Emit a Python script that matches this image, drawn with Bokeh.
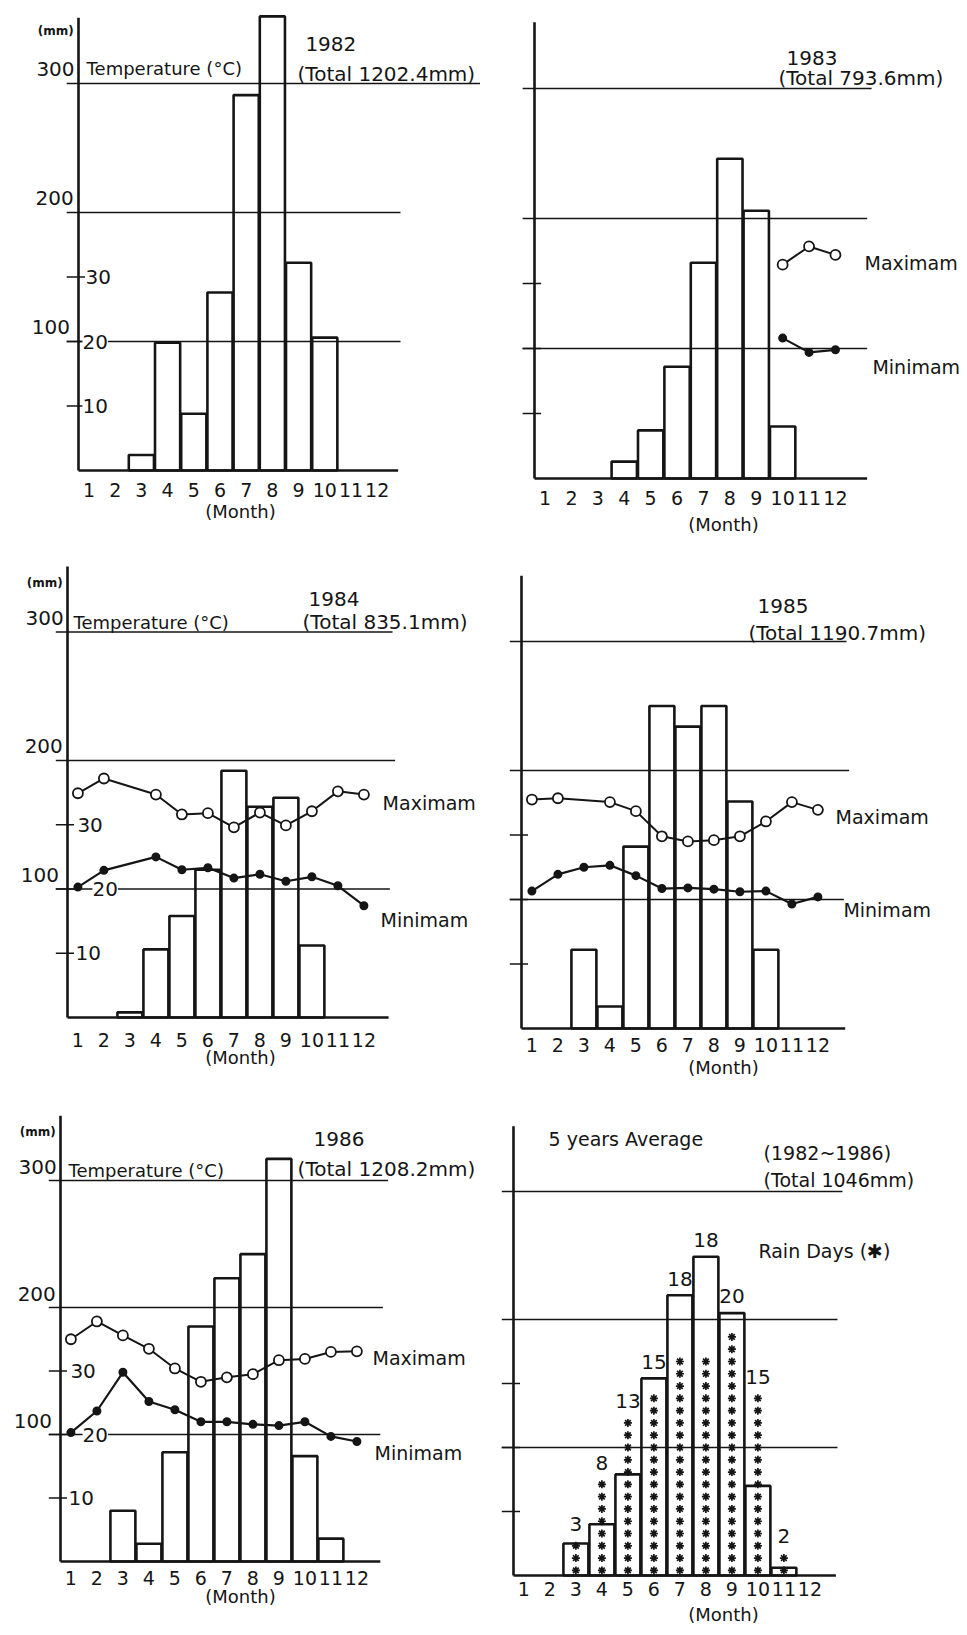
from bokeh.plotting import figure
from bokeh.models import Range1d, FixedTicker
from bokeh.layouts import column, row
from bokeh.embed import file_html
from bokeh.resources import INLINE
from bokeh.core.properties import value

# ---------------- data ----------------
months = [1, 2, 3, 4, 5, 6, 7, 8, 9, 10, 11, 12]
mm_ticks = [100, 200, 300]
mm_tick_labels = ["100", "200", "300"]
temp_ticks = [10, 20, 30]
temp_tick_labels = ["10", "20", "30"]

rain_1982 = [0, 0, 12, 99, 44, 138, 291, 352, 161, 103, 0, 0]
rain_1983 = [0, 0, 0, 13, 37, 86, 166, 246, 206, 40, 0, 0]
rain_1984 = [0, 0, 4, 53, 79, 115, 192, 164, 171, 56, 0, 0]
rain_1985 = [0, 0, 61, 17, 141, 250, 234, 250, 176, 61, 0, 0]
rain_1986 = [0, 0, 40, 14, 86, 185, 223, 242, 317, 83, 18, 0]
rain_avg = [0, 0, 25, 40, 79, 154, 219, 249, 205, 70, 6, 0]
rain_days_avg = [0, 0, 3, 8, 13, 15, 18, 18, 20, 15, 2, 0]

N = None
tmax_1983 = [N, N, N, N, N, N, N, N, N, 32.9, 35.7, 34.4]
tmin_1983 = [N, N, N, N, N, N, N, N, N, 21.6, 19.4, 19.8]
tmax_1984 = [34.9, 37.2, N, 34.7, 31.6, 31.8, 29.6, 31.9, 29.9, 32.1, 35.2, 34.7]
tmin_1984 = [20.3, 22.9, N, 25.0, 23.0, 23.3, 21.7, 22.3, 21.2, 21.9, 20.5, 17.4]
tmax_1985 = [35.5, 35.7, N, 35.1, 33.7, 29.8, 29.0, 29.2, 29.8, 32.1, 35.1, 33.9]
tmin_1985 = [21.3, 23.9, 25.0, 25.3, 23.7, 21.7, 21.8, 21.6, 21.2, 21.3, 19.3, 20.4]
tmax_1986 = [35.0, 37.8, 35.6, 33.5, 30.4, 28.3, 29.0, 29.5, 31.7, 31.9, 33.0, 33.1]
tmin_1986 = [20.3, 23.7, 29.8, 25.2, 23.9, 22.0, 22.0, 21.6, 21.4, 22.0, 19.7, 18.9]

# ---------------- style / layout constants ----------------
FONT = "DejaVu Sans"
INK = "#151515"
AXIS_X = 0.6          # month coordinate of the vertical axis
MM_PER_DEG = 5.0      # 10 degC drawn as 50 mm
AXIS_TOP = 351
GRID_X0 = 0.15
TICK_X0, TICK_X1 = 0.15, 0.85
MM_LABEL_X = [0.27, 0.42, 0.45]
MM_LABEL_DY = 11
STAR_Y0, STAR_STEP = 4.0, 9.6


def present(vals):
    xs = [m for m, v in zip(months, vals) if v is not None]
    ys = [v for v in vals if v is not None]
    return xs, ys


def txt(p, x, y, s, size="19px", align="left", **kw):
    p.text(x=[x], y=[y], text=[s], text_align=align, text_baseline="middle",
           text_font=value(FONT), text_font_size=size, text_color=INK, **kw)


def panel(cfg, rain, tmax=None, tmin=None):
    W, H, B, k = cfg["w"], cfg["h"], cfg["b"], cfg["k"]
    px = cfg.get("px", 26.0)
    x0 = AXIS_X - cfg["ax"] / px
    x1 = x0 + W / px
    y1 = cfg["base"] / k
    y0 = y1 - (H - B) / k
    p = figure(width=W, height=H, x_range=Range1d(x0, x1), y_range=Range1d(y0, y1),
               output_backend="svg", toolbar_location=None, y_axis_location=None,
               min_border_left=0, min_border_right=0, min_border_top=0,
               min_border_bottom=B, background_fill_color="white",
               border_fill_color="white")
    p.extra_y_ranges = {"temp": Range1d(y0 / MM_PER_DEG, y1 / MM_PER_DEG)}
    p.grid.visible = False
    p.outline_line_color = None

    ax = p.xaxis[0]
    ax.ticker = FixedTicker(ticks=months)
    ax.axis_line_color = None
    ax.major_tick_line_color = None
    ax.minor_tick_line_color = None
    ax.major_tick_out = 0
    ax.major_tick_in = 0
    ax.major_label_standoff = cfg["std"]
    ax.major_label_text_font = FONT
    ax.major_label_text_font_size = "19px"
    ax.major_label_text_color = INK
    ax.axis_label = "(Month)"
    ax.axis_label_standoff = cfg["lstd"]
    ax.axis_label_text_font = FONT
    ax.axis_label_text_font_size = "18px"
    ax.axis_label_text_font_style = "normal"
    ax.axis_label_text_color = INK

    # rainfall bars
    bx = [m for m, r in zip(months, rain) if r > 0]
    bt = [r for r in rain if r > 0]
    p.vbar(x=bx, top=bt, bottom=0, width=0.96, fill_color="white",
           line_color=INK, line_width=2.6)

    # rain-day asterisks (average panel)
    if cfg.get("stars"):
        sx, sy = [], []
        for m, n in zip(months, rain_days_avg):
            for i in range(n):
                sx.append(m)
                sy.append(STAR_Y0 + i * STAR_STEP)
        p.scatter(sx, sy, marker="asterisk", size=8, line_color=INK, line_width=1.7)
        lx, ly, lt = [], [], []
        for m, n, r in zip(months, rain_days_avg, rain):
            if n > 0:
                lx.append(m)
                ly.append(max(r, STAR_Y0 + (n - 1) * STAR_STEP + 4) + 13)
                lt.append(str(n))
        p.text(x=lx, y=ly, text=lt, text_align="center", text_baseline="middle",
               text_font=value(FONT), text_font_size="20px", text_color=INK)

    # horizontal rules at 100/200/300 mm
    p.segment(x0=[GRID_X0] * 3, y0=mm_ticks, x1=cfg["grid_end"], y1=mm_ticks,
              line_color=INK, line_width=1.3)
    # axes
    p.segment(x0=[AXIS_X], y0=[0], x1=[AXIS_X], y1=[AXIS_TOP], line_color=INK, line_width=2.6)
    p.segment(x0=[AXIS_X], y0=[0], x1=[cfg.get("base_end", 12.95)], y1=[0],
              line_color=INK, line_width=2.6)
    # temperature ticks
    p.segment(x0=[TICK_X0] * 3, y0=temp_ticks, x1=[TICK_X1] * 3, y1=temp_ticks,
              y_range_name="temp", line_color=INK, line_width=1.5)

    if cfg.get("mm_labels"):
        p.text(x=MM_LABEL_X, y=[t + MM_LABEL_DY for t in mm_ticks], text=mm_tick_labels,
               text_align="right", text_baseline="middle", text_font=value(FONT),
               text_font_size="20px", text_color=INK)
        txt(p, 0.42, cfg["mm_y"], "(mm)", size="12px", align="right", text_font_style="bold")
    if cfg.get("tlab_x"):
        p.text(x=cfg["tlab_x"], y=temp_ticks, text=temp_tick_labels, y_range_name="temp",
               text_align="left", text_baseline="middle", text_font=value(FONT),
               text_font_size="20px", text_color=INK, background_fill_color="white")

    for (s, x, y, size) in cfg["texts"]:
        txt(p, x, y, s, size=size)

    if tmax is not None:
        xs, ys = present(tmax)
        p.line(xs, ys, y_range_name="temp", line_color=INK, line_width=2)
        p.scatter(xs, ys, y_range_name="temp", marker="circle", size=10,
                  fill_color="white", line_color=INK, line_width=1.8)
    if tmin is not None:
        xs, ys = present(tmin)
        p.line(xs, ys, y_range_name="temp", line_color=INK, line_width=2.2)
        p.scatter(xs, ys, y_range_name="temp", marker="circle", size=7.5,
                  fill_color=INK, line_color=INK, line_width=1.5)
    return p


W_L, W_R = 480, 486
H1, H2, H3 = 545, 553, 536

cfg1982 = dict(w=W_L, h=H1, b=65, ax=78, base=470, k=1.29, px=26.2, std=2, lstd=1,
               grid_end=[12.89, 12.89, 16.06], base_end=12.8, mm_labels=True, mm_y=341,
               tlab_x=[0.75, 0.75, 0.87],
               texts=[("1982", 9.26, 331, "20px"),
                      ("(Total 1202.4mm)", 8.96, 307.7, "20px"),
                      ("Temperature (°C)", 0.91, 311.6, "18px")])
cfg1983 = dict(w=W_R, h=H1, b=65, ax=54, base=478, k=1.30, px=26.4, std=10, lstd=6,
               grid_end=[13.2, 13.2, 13.37], base_end=13.2,
               texts=[("1983", 10.15, 323.8, "20px"),
                      ("(Total 793.6mm)", 9.84, 307.7, "20px"),
                      ("Maximam", 13.1, 165.4, "19px"),
                      ("Minimam", 13.4, 85.4, "19px")])
cfg1984 = dict(w=W_L, h=H2, b=67, ax=67, base=472, k=1.285, std=1, lstd=-3,
               grid_end=[13.0, 13.2, 13.1], mm_labels=True, mm_y=338.5,
               tlab_x=[0.91, 1.56, 0.98],
               texts=[("1984", 9.87, 326, "20px"),
                      ("(Total 835.1mm)", 9.64, 308.0, "20px"),
                      ("Temperature (°C)", 0.83, 307.4, "18px"),
                      ("Maximam", 12.72, 167.3, "19px"),
                      ("Minimam", 12.64, 75.5, "19px")])
cfg1985 = dict(w=W_R, h=H2, b=67, ax=41, base=483, k=1.29, std=6, lstd=2,
               grid_end=[13.0, 13.2, 13.1], base_end=13.05,
               texts=[("1985", 9.68, 327.9, "20px"),
                      ("(Total 1190.7mm)", 9.33, 306.9, "20px"),
                      ("Maximam", 12.68, 163.6, "19px"),
                      ("Minimam", 12.98, 91.5, "19px")])
cfg1986 = dict(w=W_L, h=H3, b=56, ax=60, base=463, k=1.27, std=-8, lstd=-2,
               grid_end=[12.9, 13.0, 13.2], base_end=12.9, mm_labels=True, mm_y=337.8,
               tlab_x=[0.91, 1.45, 0.98],
               texts=[("1986", 10.33, 333, "20px"),
                      ("(Total 1208.2mm)", 9.72, 308.7, "20px"),
                      ("Temperature (°C)", 0.91, 307.9, "18px"),
                      ("Maximam", 12.6, 160.6, "19px"),
                      ("Minimam", 12.68, 85.8, "19px")])
cfgavg = dict(w=W_R, h=H3, b=56, ax=33, base=477, k=1.28, std=3, lstd=5,
              grid_end=[13.06, 13.06, 13.25], base_end=13.0, stars=True,
              texts=[("5 years Average", 1.95, 341.4, "19px"),
                     ("(1982~1986)", 10.22, 329.7, "19px"),
                     ("(Total 1046mm)", 10.22, 308.7, "19px"),
                     ("Rain Days (✱)", 10.02, 253.9, "19px")])

p1 = panel(cfg1982, rain_1982)
p2 = panel(cfg1983, rain_1983, tmax_1983, tmin_1983)
p3 = panel(cfg1984, rain_1984, tmax_1984, tmin_1984)
p4 = panel(cfg1985, rain_1985, tmax_1985, tmin_1985)
p5 = panel(cfg1986, rain_1986, tmax_1986, tmin_1986)
p6 = panel(cfgavg, rain_avg)

layout = column(row(p1, p2), row(p3, p4), row(p5, p6))
open("out.html", "w").write(file_html(layout, INLINE))
